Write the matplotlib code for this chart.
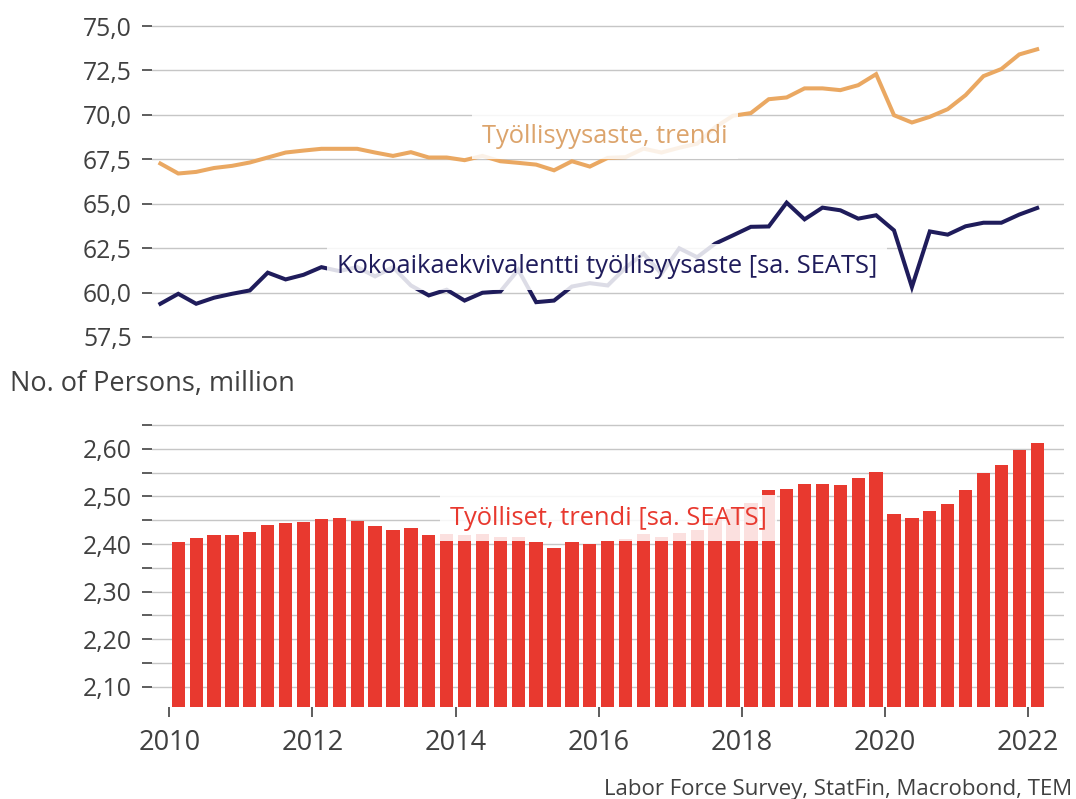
import matplotlib
matplotlib.use('Agg')
import matplotlib.pyplot as plt
from matplotlib.ticker import FuncFormatter, MultipleLocator, FixedLocator

plt.rcParams['font.family'] = ['Open Sans', 'DejaVu Sans']

# ---- data -------------------------------------------------------------
line_start = (2009, 4)   # first quarter of the line series
bar_start = (2010, 1)    # first quarter of the bar series

employment_rate_trend = [
    67.26, 66.70, 66.79, 67.01, 67.13, 67.32, 67.60, 67.88, 67.99, 68.09,
    68.09, 68.09, 67.88, 67.69, 67.90, 67.60, 67.60, 67.45, 67.69, 67.39,
    67.30, 67.20, 66.88, 67.39, 67.09, 67.58, 67.62, 68.10, 67.88, 68.15,
    68.38, 69.30, 69.95, 70.10, 70.88, 70.98, 71.49, 71.49, 71.39, 71.67,
    72.29, 69.98, 69.57, 69.89, 70.32, 71.11, 72.18, 72.58, 73.40, 73.69,
]
fte_employment_rate = [
    59.37, 59.93, 59.37, 59.71, 59.93, 60.12, 61.12, 60.74, 61.00, 61.43,
    61.21, 61.43, 60.91, 61.43, 60.40, 59.84, 60.16, 59.55, 59.99, 60.06,
    61.28, 59.46, 59.55, 60.34, 60.53, 60.40, 61.40, 62.20, 61.06, 62.49,
    61.99, 62.75, 63.22, 63.70, 63.72, 65.06, 64.12, 64.78, 64.63, 64.16,
    64.35, 63.50, 60.31, 63.44, 63.26, 63.73, 63.93, 63.93, 64.39, 64.76,
]
employed_trend = [
    2.405, 2.413, 2.419, 2.419, 2.426, 2.439, 2.445, 2.447, 2.452, 2.454,
    2.449, 2.437, 2.430, 2.433, 2.419, 2.420, 2.418, 2.420, 2.414, 2.415,
    2.405, 2.392, 2.405, 2.399, 2.407, 2.411, 2.422, 2.415, 2.424, 2.430,
    2.455, 2.474, 2.487, 2.514, 2.516, 2.527, 2.527, 2.525, 2.538, 2.552,
    2.464, 2.454, 2.470, 2.483, 2.514, 2.550, 2.566, 2.597, 2.613,
]

label_rate = 'Työllisyysaste, trendi'
label_fte = 'Kokoaikaekvivalentti työllisyysaste [sa. SEATS]'
label_employed = 'Työlliset, trendi [sa. SEATS]'
ylabel_bottom = 'No. of Persons, million'
source_text = 'Labor Force Survey, StatFin, Macrobond, TEM'
year_ticks = [2010, 2012, 2014, 2016, 2018, 2020, 2022]


def quarter_positions(start, n):
    y, q = start
    out = []
    for _ in range(n):
        out.append(y + (q - 0.5) / 4.0)
        q += 1
        if q > 4:
            q = 1
            y += 1
    return out


x_lines = quarter_positions(line_start, len(employment_rate_trend))
x_bars = quarter_positions(bar_start, len(employed_trend))

# ---- style ------------------------------------------------------------
ORANGE = '#EAA862'
ORANGE_TXT = '#DCA46C'
NAVY = '#1F1C5B'
RED = '#E8392F'
GRID = '#C6C6C6'
TICKC = '#505050'
LABELC = '#404040'
FS_Y = 17.8
FS_X = 19.5
FS_LAB = 18.4

W, H = 1076, 799
fig = plt.figure(figsize=(W / 100, H / 100), dpi=100)

left = 152 / W
width = (1064 - 152) / W
# top panel: 57.4..75.1  (57.5 at px 337, 75.0 at px 26)
t_top, t_bot = 26 - 0.1 * 17.77, 337 + 0.1 * 17.77
ax1 = fig.add_axes([left, 1 - t_bot / H, width, (t_bot - t_top) / H])
# bottom panel: 2.0576..2.655 (2.65 at px 425, bottom at px 707)
b_top, b_bot = 425 - 0.005 * 476, 707
ax2 = fig.add_axes([left, 1 - b_bot / H, width, (b_bot - b_top) / H])

box = dict(boxstyle='square,pad=0.4', fc='white', ec='none', alpha=0.85)


def comma(fmt):
    return FuncFormatter(lambda v, p: (fmt % v).replace('.', ','))


for ax in (ax1, ax2):
    for s in ax.spines.values():
        s.set_visible(False)
    ax.set_axisbelow(True)
    ax.set_xlim(2009.758, 2022.5)
    ax.tick_params(axis='y', which='both', length=7.5, width=1.3, color=TICKC,
                   labelsize=FS_Y, labelcolor=LABELC, pad=7)

# top panel
ax1.plot(x_lines, employment_rate_trend, color=ORANGE, lw=2.9, zorder=3,
         solid_joinstyle='miter')
ax1.plot(x_lines, fte_employment_rate, color=NAVY, lw=2.9, zorder=3,
         solid_joinstyle='miter')
ax1.set_ylim(57.4, 75.1)
ax1.yaxis.set_major_locator(FixedLocator([57.5, 60.0, 62.5, 65.0, 67.5,
                                          70.0, 72.5, 75.0]))
ax1.yaxis.set_major_formatter(comma('%.1f'))
ax1.grid(axis='y', color=GRID, lw=1.0)
ax1.tick_params(axis='x', which='both', bottom=False, labelbottom=False)
ax1.text(2014.368, 68.80, label_rate, color=ORANGE_TXT, fontsize=FS_LAB,
         va='center', ha='left', bbox=box, zorder=5)
ax1.text(2012.343, 61.44, label_fte, color=NAVY, fontsize=FS_LAB,
         va='center', ha='left', bbox=box, zorder=5)

# bottom panel
ax2.bar(x_bars, employed_trend, width=0.186, color=RED, zorder=2)
ax2.set_ylim(2.0576, 2.655)
ax2.yaxis.set_major_locator(FixedLocator([2.10, 2.20, 2.30, 2.40, 2.50, 2.60]))
ax2.yaxis.set_minor_locator(FixedLocator([2.15, 2.25, 2.35, 2.45, 2.55, 2.65]))
ax2.yaxis.set_major_formatter(comma('%.2f'))
ax2.grid(axis='y', which='both', color=GRID, lw=1.0)
ax2.set_xticks(year_ticks)
ax2.set_xticklabels([str(y) for y in year_ticks])
ax2.tick_params(axis='x', length=7, width=1.3, color=TICKC, labelsize=FS_X,
                labelcolor=LABELC, pad=9)
ax2.text(2013.921, 2.4546, label_employed, color=RED, fontsize=FS_LAB,
         va='center', ha='left', bbox=box, zorder=5)

fig.text(10 / W, 1 - 384 / H, ylabel_bottom, fontsize=FS_X, color=LABELC,
         ha='left', va='center')
fig.text(1072 / W, 1 - 789 / H, source_text, fontsize=16, color=LABELC,
         ha='right', va='center')

fig.savefig('out.png', dpi=100)
